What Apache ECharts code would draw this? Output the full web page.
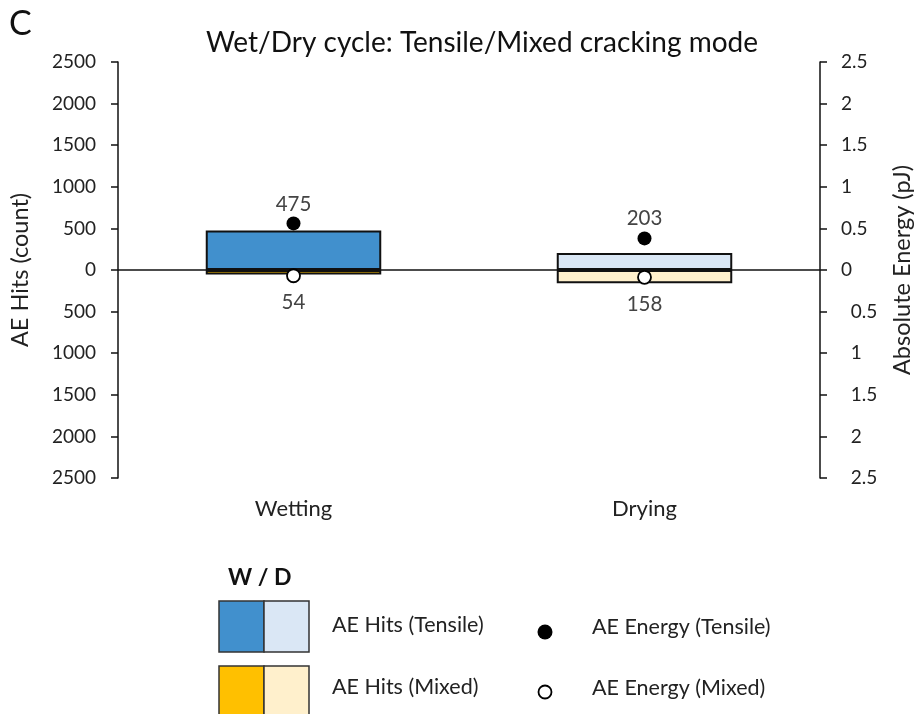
<!DOCTYPE html>
<html><head><meta charset="utf-8">
<script src="https://cdn.jsdelivr.net/npm/echarts@6/dist/echarts.min.js"></script>
<style>html,body{margin:0;padding:0;background:#fff}#c{width:922px;height:714px}</style>
</head><body><div id="c"></div>
<script>
const categories = ['Wetting', 'Drying'];
const hitsTensile = [475, 203];
const hitsMixed = [54, 158];
const energyTensile = [0.56, 0.38];
const energyMixed = [0.069, 0.088];
const leftTicks = [-2500, 2500, 500];
const rightTicks = [-2.5, 2.5, 0.5];

const colTensile = ['#4190CD', '#DAE7F5'];
const colMixed = ['#FFC000', '#FFF0CC'];
const FONT = 'Lato';
const absFmt = v => (v < 0 ? '  ' : '') + String(Math.abs(Math.round(v * 100) / 100));

const chart = echarts.init(document.getElementById('c'), null, {renderer: 'canvas'});
chart.setOption({
  animation: false,
  textStyle: {fontFamily: FONT},
  title: {text: 'Wet/Dry cycle: Tensile/Mixed cracking mode', left: 477, top: 24, textAlign: 'center',
    textStyle: {fontFamily: FONT, fontSize: 28, fontWeight: 'normal', color: '#111'}},
  grid: {left: 117, right: 100, top: 62, bottom: 236},
  xAxis: {type: 'category', data: categories, axisLine: {show: false}, axisTick: {show: false},
    axisLabel: {margin: 20, fontSize: 22, color: '#222', fontFamily: FONT}},
  yAxis: [
    {type: 'value', min: leftTicks[0], max: leftTicks[1], interval: leftTicks[2], position: 'left',
      name: 'AE Hits (count)', nameLocation: 'middle', nameGap: 86, nameRotate: 90,
      nameTextStyle: {fontSize: 23.5, color: '#222', fontFamily: FONT},
      axisLine: {show: true, lineStyle: {color: '#111', width: 1.5}},
      axisTick: {show: true, length: 7, lineStyle: {color: '#111', width: 1.5}},
      splitLine: {show: false},
      axisLabel: {margin: 22, fontSize: 19, color: '#222', fontFamily: FONT, formatter: v => String(Math.abs(v))}},
    {type: 'value', min: rightTicks[0], max: rightTicks[1], interval: rightTicks[2], position: 'right',
      name: 'Absolute Energy (pJ)', nameLocation: 'middle', nameGap: 70, nameRotate: 90,
      nameTextStyle: {fontSize: 23.5, color: '#222', fontFamily: FONT},
      axisLine: {show: true, lineStyle: {color: '#111', width: 1.5}},
      axisTick: {show: true, length: 7, lineStyle: {color: '#111', width: 1.5}},
      splitLine: {show: false},
      axisLabel: {margin: 21, fontSize: 19, color: '#222', fontFamily: FONT, formatter: absFmt}}
  ],
  series: [
    {type: 'bar', name: 'AE Hits (Tensile)', stack: 'hits', yAxisIndex: 0, barWidth: '50%',
      data: hitsTensile.map((v, i) => ({value: v, itemStyle: {color: colTensile[i]}})),
      itemStyle: {borderColor: '#111', borderWidth: 2},
      markLine: {silent: true, symbol: 'none', label: {show: false},
        lineStyle: {color: '#111', width: 1.5, type: 'solid'}, data: [{yAxis: 0}]}},
    {type: 'bar', name: 'AE Hits (Mixed)', stack: 'hits', yAxisIndex: 0, barWidth: '50%',
      data: hitsMixed.map((v, i) => ({value: -v, itemStyle: {color: colMixed[i]}})),
      itemStyle: {borderColor: '#111', borderWidth: 2}},
    {type: 'scatter', name: 'AE Energy (Tensile)', yAxisIndex: 1, symbol: 'circle', symbolSize: 14,
      itemStyle: {color: '#000', opacity: 1}, z: 5,
      label: {show: true, position: 'top', distance: 2, fontSize: 20.5, color: '#444', fontFamily: FONT,
        formatter: p => String(hitsTensile[p.dataIndex])},
      data: energyTensile},
    {type: 'scatter', name: 'AE Energy (Mixed)', yAxisIndex: 1, symbol: 'circle', symbolSize: 13,
      itemStyle: {color: '#fff', borderColor: '#000', borderWidth: 1.8, opacity: 1}, z: 5,
      label: {show: true, position: 'bottom', distance: 9, fontSize: 20.5, color: '#444', fontFamily: FONT,
        formatter: p => String(hitsMixed[p.dataIndex])},
      data: energyMixed.map(v => -v)}
  ],
  graphic: [
    {type: 'text', left: 9, top: 7, style: {text: 'C', font: '34px ' + FONT, fill: '#111'}},
    {type: 'text', left: 228, top: 566, style: {text: 'W / D', font: 'bold 23px ' + FONT, fill: '#111'}},
    {type: 'rect', shape: {x: 219, y: 601, width: 45, height: 51}, style: {fill: colTensile[0], stroke: '#333', lineWidth: 1.5}},
    {type: 'rect', shape: {x: 264, y: 601, width: 45, height: 51}, style: {fill: colTensile[1], stroke: '#333', lineWidth: 1.5}},
    {type: 'rect', shape: {x: 219, y: 666, width: 45, height: 51}, style: {fill: colMixed[0], stroke: '#333', lineWidth: 1.5}},
    {type: 'rect', shape: {x: 264, y: 666, width: 45, height: 51}, style: {fill: colMixed[1], stroke: '#333', lineWidth: 1.5}},
    {type: 'text', left: 332, top: 614, style: {text: 'AE Hits (Tensile)', font: '21.5px ' + FONT, fill: '#222'}},
    {type: 'text', left: 332, top: 676, style: {text: 'AE Hits (Mixed)', font: '21.5px ' + FONT, fill: '#222'}},
    {type: 'circle', shape: {cx: 545, cy: 632, r: 7.5}, style: {fill: '#000'}},
    {type: 'circle', shape: {cx: 545, cy: 692, r: 6.5}, style: {fill: '#fff', stroke: '#000', lineWidth: 1.8}},
    {type: 'text', left: 592, top: 616, style: {text: 'AE Energy (Tensile)', font: '21.5px ' + FONT, fill: '#222'}},
    {type: 'text', left: 592, top: 677, style: {text: 'AE Energy (Mixed)', font: '21.5px ' + FONT, fill: '#222'}}
  ]
});
</script></body></html>
